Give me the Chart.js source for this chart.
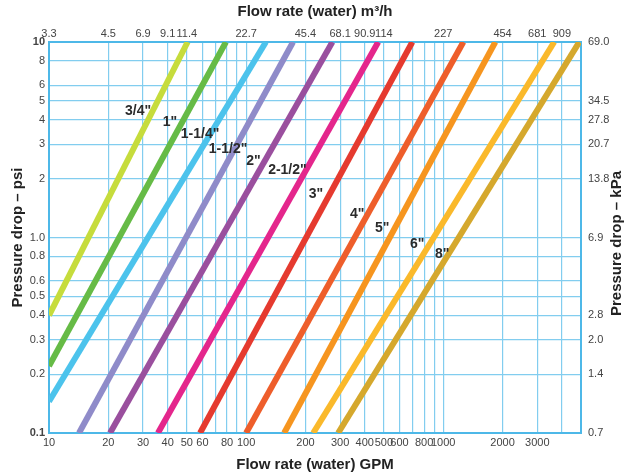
<!DOCTYPE html>
<html>
<head>
<meta charset="utf-8">
<script src="https://cdn.jsdelivr.net/npm/chart.js@4/dist/chart.umd.min.js"></script>
<style>
html,body{margin:0;padding:0;background:#fff;}
#wrap{width:632px;height:475px;}
</style>
</head>
<body>
<div id="wrap"><canvas id="c" width="632" height="475"></canvas></div>
<script>
// Pipe sizes and line end points (GPM, psi)
const sizes = ['3/4"', '1"', '1-1/4"', '1-1/2"', '2"', '2-1/2"', '3"', '4"', '5"', '6"', '8"'];
const startGPM = [10, 10, 10, 14.2, 20.4, 35.7, 58.4, 100, 156, 219, 293];
const startPSI = [0.4, 0.22, 0.145, 0.1, 0.1, 0.1, 0.1, 0.1, 0.1, 0.1, 0.1];
const endGPM = [50.5, 79, 126, 173, 274, 468, 697, 1265, 1838, 3656, 4900];
const endPSI = [10, 10, 10, 10, 10, 10, 10, 10, 10, 10, 10];
const labelGPM = [28.3, 41.1, 58.4, 81, 109, 162, 226, 366, 490, 738, 988];
const labelPSI = [4.43, 3.89, 3.37, 2.83, 2.45, 2.21, 1.66, 1.31, 1.12, 0.93, 0.82];
const colors = ['#c6dc3c', '#66bb46', '#4cc3ec', '#8f8bc9', '#9a4f9e', '#e4268c', '#e53a2f', '#ee5e2b', '#f6951f', '#fab92b', '#d5a82d'];

// Axes
const gpmGridValues = [10,20,30,40,50,60,70,80,90,100,200,300,400,500,600,700,800,900,1000,2000,3000,4000,5000];
const gpmLabelValues = [10,20,30,40,50,60,80,100,200,300,400,500,600,800,1000,2000,3000];
const gpmLabelTexts = ['10','20','30','40','50','60','80','100','200','300','400','500','600','800','1000','2000','3000'];
const m3hLabelValues = [10,20,30,40,50,100,200,300,400,500,1000,2000,3000,4000];
const m3hLabelTexts = ['3.3','4.5','6.9','9.1','11.4','22.7','45.4','68.1','90.9','114','227','454','681','909'];
const psiTickValues = [0.1,0.2,0.3,0.4,0.5,0.6,0.8,1,2,3,4,5,6,8,10];
const psiTickTexts = ['0.1','0.2','0.3','0.4','0.5','0.6','0.8','1.0','2','3','4','5','6','8','10'];
const kpaTickValues = [0.1,0.2,0.3,0.4,1,2,3,4,5,10];
const kpaTickTexts = ['0.7','1.4','2.0','2.8','6.9','13.8','20.7','27.8','34.5','69.0'];

const GPM_MIN = 10, GPM_MAX = 5000, PSI_MIN = 0.1, PSI_MAX = 10;
const FONT = '"Liberation Sans", Arial, Helvetica, sans-serif';
const gridColor = '#82cdef';
const borderColor = '#4db8e8';

const datasets = sizes.map((s, i) => ({
  label: s,
  data: [{x: startGPM[i], y: startPSI[i]}, {x: endGPM[i], y: endPSI[i]}],
  borderColor: colors[i],
  backgroundColor: colors[i],
  borderWidth: 6,
  borderCapStyle: 'butt',
  pointRadius: 0,
  fill: false,
  tension: 0,
  xAxisID: 'x',
  yAxisID: 'y'
}));

function setTicks(values) {
  return function(scale) { scale.ticks = values.map(v => ({value: v})); };
}

const labelPlugin = {
  id: 'lineLabels',
  afterDatasetsDraw(chart) {
    const ctx = chart.ctx;
    const xs = chart.scales.x, ys = chart.scales.y;
    ctx.save();
    ctx.font = 'bold 14px ' + FONT;
    ctx.fillStyle = '#2b2b2b';
    ctx.textAlign = 'center';
    ctx.textBaseline = 'middle';
    sizes.forEach((s, i) => {
      ctx.fillText(s, xs.getPixelForValue(labelGPM[i]), ys.getPixelForValue(labelPSI[i]));
    });
    // right axis title (reads bottom to top)
    const ca = chart.chartArea;
    ctx.font = 'bold 15px ' + FONT;
    ctx.fillStyle = '#222';
    ctx.translate(617, (ca.top + ca.bottom) / 2 + 6);
    ctx.rotate(-Math.PI / 2);
    ctx.fillText('Pressure drop \u2013 kPa', 0, 0);
    ctx.restore();
  }
};

const bgPlugin = {
  id: 'bg',
  beforeDraw(chart) {
    const c = chart.ctx; c.save(); c.fillStyle = '#fff'; c.fillRect(0, 0, chart.width, chart.height); c.restore();
  }
};

new Chart(document.getElementById('c'), {
  type: 'line',
  data: { datasets },
  plugins: [bgPlugin, labelPlugin],
  options: {
    responsive: false,
    animation: false,
    devicePixelRatio: 1,
    layout: { padding: 0 },
    plugins: { legend: { display: false }, tooltip: { enabled: false } },
    scales: {
      x: {
        type: 'logarithmic', position: 'bottom', min: GPM_MIN, max: GPM_MAX,
        afterBuildTicks: setTicks(gpmGridValues),
        afterFit(s) { s.height = 42; },
        grid: { color: gridColor, lineWidth: 1.2, drawTicks: false },
        border: { display: true, color: borderColor, width: 2 },
        ticks: {
          autoSkip: false, maxRotation: 0, minRotation: 0, padding: 3,
          color: '#444', font: { family: FONT, size: 11 },
          callback(v) { const k = gpmLabelValues.indexOf(v); return k >= 0 ? gpmLabelTexts[k] : ''; }
        },
        title: { display: true, text: 'Flow rate (water) GPM', color: '#222', font: { family: FONT, size: 15, weight: 'bold' }, padding: { top: 0, bottom: 1 } }
      },
      x2: {
        type: 'logarithmic', position: 'top', min: GPM_MIN, max: GPM_MAX,
        afterBuildTicks: setTicks(m3hLabelValues),
        afterFit(s) { s.height = 42; },
        grid: { display: false, drawTicks: false },
        border: { display: true, color: borderColor, width: 2 },
        ticks: {
          autoSkip: false, maxRotation: 0, minRotation: 0, padding: 1,
          color: '#444', font: { family: FONT, size: 11 },
          callback(v) { const k = m3hLabelValues.indexOf(v); return k >= 0 ? m3hLabelTexts[k] : ''; }
        },
        title: { display: true, text: 'Flow rate (water) m\u00b3/h', color: '#222', font: { family: FONT, size: 15, weight: 'bold' }, padding: { top: 3, bottom: 0 } }
      },
      y: {
        type: 'logarithmic', position: 'left', min: PSI_MIN, max: PSI_MAX,
        afterBuildTicks: setTicks(psiTickValues),
        afterFit(s) { s.width = 49; },
        grid: { color: gridColor, lineWidth: 1.2, drawTicks: false },
        border: { display: true, color: borderColor, width: 2 },
        ticks: {
          autoSkip: false, padding: 4, color: '#444',
          font(ctx) { const v = ctx.tick && ctx.tick.value; return { family: FONT, size: 11, weight: (v === 10 || v === 0.1) ? 'bold' : 'normal' }; },
          callback(v) { const k = psiTickValues.indexOf(v); return k >= 0 ? psiTickTexts[k] : ''; }
        },
        title: { display: true, text: 'Pressure drop \u2013 psi', color: '#222', font: { family: FONT, size: 15, weight: 'bold' }, padding: { top: 9, bottom: 0 } }
      },
      y2: {
        type: 'logarithmic', position: 'right', min: PSI_MIN, max: PSI_MAX,
        afterBuildTicks: setTicks(kpaTickValues),
        afterFit(s) { s.width = 51; },
        grid: { display: false, drawTicks: false },
        border: { display: true, color: borderColor, width: 2 },
        ticks: {
          autoSkip: false, padding: 7, color: '#444', font: { family: FONT, size: 11 },
          callback(v) { const k = kpaTickValues.indexOf(v); return k >= 0 ? kpaTickTexts[k] : ''; }
        },
        title: { display: false }
      }
    }
  }
});
</script>
</body>
</html>
